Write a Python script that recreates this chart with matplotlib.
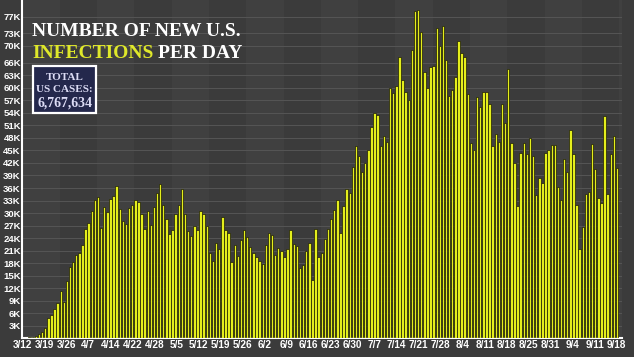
import matplotlib
matplotlib.use("Agg")
import matplotlib.pyplot as plt
import matplotlib.patches as patches
import numpy as np

# daily new cases (thousands), 3/12 .. 9/18
cases = [
    0.2, 0.3, 0.4, 0.6, 1.1, 1.6, 2.6, 5.0, 5.5, 7.1,
    8.4, 11.4, 8.8, 13.8, 17.2, 18.2, 19.9, 20.4, 22.4, 26.1,
    27.7, 30.4, 33.1, 33.9, 26.5, 31.5, 30.3, 33.4, 34.1, 36.5,
    31.0, 28.2, 27.5, 31.1, 31.9, 33.1, 32.7, 29.8, 26.2, 30.6,
    27.2, 31.5, 34.7, 36.9, 32.0, 28.7, 24.9, 26.0, 29.8, 31.9,
    35.7, 29.9, 25.8, 24.4, 26.9, 26.0, 30.5, 29.7, 26.9, 20.4,
    18.5, 22.9, 21.3, 29.1, 26.0, 25.2, 18.3, 22.3, 19.8, 23.6,
    26.0, 24.2, 22.0, 20.5, 19.4, 18.6, 17.8, 22.3, 25.2, 24.7,
    20.0, 21.7, 21.0, 19.6, 21.3, 26.0, 22.6, 22.1, 16.8, 17.6,
    20.9, 22.8, 14.0, 26.1, 19.5, 20.5, 23.7, 26.3, 28.5, 30.7,
    33.1, 25.2, 31.7, 35.8, 34.9, 41.1, 46.1, 43.6, 39.8, 41.9,
    45.0, 50.7, 54.0, 53.4, 46.1, 48.4, 46.9, 60.0, 58.7, 60.4,
    67.3, 61.8, 59.0, 57.1, 69.0, 78.4, 78.6, 73.3, 63.8, 60.0,
    65.0, 65.2, 74.3, 70.0, 74.7, 66.6, 58.0, 59.5, 62.5, 71.2,
    68.4, 67.4, 58.6, 46.7, 45.1, 57.8, 55.3, 58.9, 58.9, 56.1,
    46.1, 48.9, 46.9, 56.0, 51.5, 64.5, 46.7, 42.1, 31.8, 44.5,
    46.7, 44.1, 47.9, 43.7, 34.3, 38.3, 37.1, 44.5, 45.1, 46.3,
    46.3, 36.3, 33.1, 43.0, 39.8, 49.8, 44.1, 31.9, 21.5, 26.7,
    34.5, 35.0, 46.5, 40.5, 33.5, 32.5, 53.2, 34.5, 44.1, 48.4,
    40.7,
]

date_labels = ['3/12', '3/19', '3/26', '4/7', '4/14', '4/22', '4/28', '5/5',
               '5/12', '5/19', '5/26', '6/2', '6/9', '6/16', '6/23', '6/30',
               '7/7', '7/14', '7/21', '7/28', '8/4', '8/11', '8/18', '8/25',
               '8/31', '9/4', '9/11', '9/18']

y_ticks = [3, 6, 9, 12, 15, 18, 21, 24, 27, 30, 33, 36, 39, 42, 45, 48, 51,
           54, 57, 60, 63, 66, 70, 73, 77]

bg = '#3b3b3b'
bar_col = '#e4ee1c'
label_font = dict(family='Liberation Sans', weight='bold', color='white')

fig = plt.figure(figsize=(6.34, 3.57), dpi=100, facecolor=bg)
ax = fig.add_axes([0.035, 0.052, 0.946, 0.948])
ax.set_facecolor(bg)

x = np.arange(len(cases))
ax.set_xlim(-1.3, 191.6)
ax.set_ylim(0, 81)

# faint vertical bands in the background
band_w = 12
for k in range(0, 17):
    if k % 2 == 0:
        ax.axvspan(-1.3 + k * band_w, -1.3 + (k + 1) * band_w, color='#404040', lw=0, zorder=0)

for v in y_ticks:
    ax.axhline(v, color='#555555', lw=0.7, zorder=1)

ax.bar(x, cases, width=0.78, color=bar_col, edgecolor='#1c1c05', linewidth=0.5, zorder=3)

for s in ['top', 'right']:
    ax.spines[s].set_visible(False)
ax.spines['left'].set_color('white')
ax.spines['bottom'].set_color('white')
ax.spines['left'].set_linewidth(1.5)
ax.spines['bottom'].set_linewidth(1.5)

ax.set_yticks(y_ticks)
ax.set_yticklabels(['%dK' % v for v in y_ticks], fontsize=6.8, **label_font)
ax.set_xticks(np.linspace(-1.4, 189.9, len(date_labels)))
ax.set_xticklabels(date_labels, fontsize=7.2, **label_font)
ax.tick_params(length=0, pad=1)

# title
tfont = dict(family='Liberation Serif', weight='bold', fontsize=14)
fig.text(32 / 634, 1 - 36 / 357, 'NUMBER OF NEW U.S.', color='white', **tfont)
t2 = fig.text(32 / 634, 1 - 58 / 357, 'INFECTIONS', color='#dfe82a', **tfont)
fig.canvas.draw()
bb = t2.get_window_extent()
fig.text(bb.x1 / 634 + 0.008, 1 - 58 / 357, 'PER DAY', color='white', **tfont)

# total cases box
box = patches.Rectangle((33 / 634, 1 - 113 / 357), 63 / 634, 47 / 357, transform=fig.transFigure,
                        facecolor='#24284c', edgecolor='white', lw=1.6, zorder=5)
fig.patches.append(box)
bfont = dict(family='Liberation Serif', weight='bold', color='#dcdcf5',
             ha='center', va='center', zorder=6)
fig.text(64.5 / 634, 1 - 77 / 357, 'TOTAL', fontsize=8, **bfont)
fig.text(64.5 / 634, 1 - 89 / 357, 'US CASES:', fontsize=8, **bfont)
fig.text(64.5 / 634, 1 - 103 / 357, '6,767,634', fontsize=10, **bfont)

fig.savefig('out.png', dpi=100, facecolor=bg)
